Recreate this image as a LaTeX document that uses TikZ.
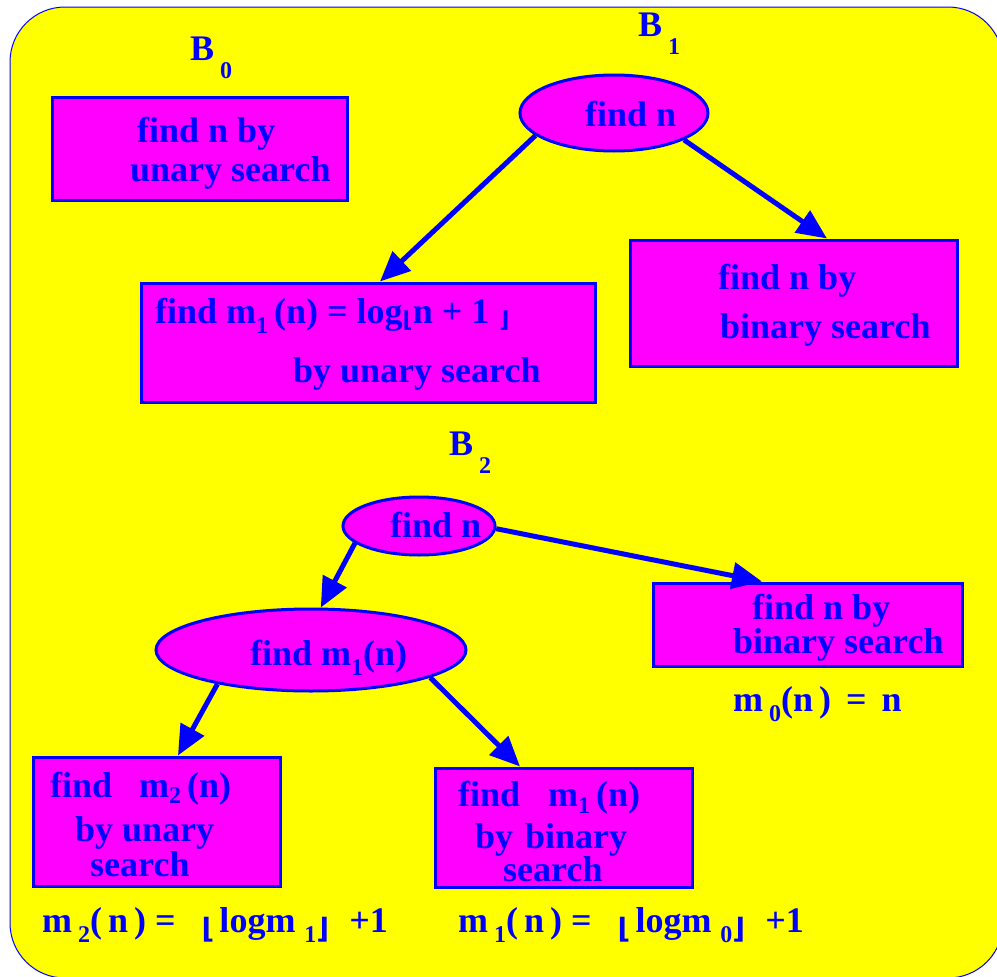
\documentclass[tikz,border=0pt]{standalone}
\usepackage{fontspec}
\setmainfont{Liberation Serif}
\newfontfamily\symf{DejaVu Sans}
\usetikzlibrary{shapes.geometric,arrows.meta}
\definecolor{mag}{RGB}{255,0,255}
\definecolor{yel}{RGB}{255,255,0}
\definecolor{blu}{RGB}{0,0,255}
\newcommand\sbs[2][-9pt]{\raisebox{#1}{\fontsize{24}{24}\selectfont #2}}
\newcommand\flo{\raisebox{-4pt}{\symf\fontsize{22}{22}\selectfont ⌊}}
\newcommand\flc{\raisebox{-4pt}{\symf\fontsize{22}{22}\selectfont ⌋}}
\newcommand\bflo{\raisebox{-6pt}{\symf\fontsize{28}{28}\selectfont ⌊}}
\newcommand\bflc{\raisebox{-6pt}{\symf\fontsize{28}{28}\selectfont ⌋}}
\begin{document}
\begin{tikzpicture}[x=1pt,y=-1pt,
  bx/.style={draw=blu, line width=3pt, fill=mag, inner sep=0pt},
  el/.style={ellipse, draw=blu, line width=3pt, fill=mag, inner sep=0pt},
  tx/.style={text=blu, font=\bfseries\fontsize{36}{40}\selectfont, inner sep=0pt, anchor=base west},
  ar/.style={draw=blu, line width=5pt, -{Triangle[length=30pt,width=26pt]}}]
\useasboundingbox (0,0) rectangle (997,977);
\draw[blu, line width=1pt, fill=yel, rounded corners=55pt] (10,7) rectangle (1003,978);
% labels
\node[tx] (lb0) at (190,60) {B\hspace{6pt}\sbs[-18pt]{0}};
\node[tx] (lb1) at (638,36) {B\hspace{6pt}\sbs[-18pt]{1}};
\node[tx] (lb2) at (449,455) {B\hspace{6pt}\sbs[-18pt]{2}};
% B0
\node[bx, minimum width=295pt, minimum height=103pt] (b1) at (199.5,148.5) {};
\node[tx] (t1a) at (137,142) {find n by};
\node[tx] (t1b) at (130,181) {unary search};
% B1
\node[el, minimum width=188pt, minimum height=76pt] (e1) at (614,113) {};
\node[tx] (te1) at (585,126) {find n};
\node[bx, minimum width=327pt, minimum height=126pt] (b2) at (793.5,303) {};
\node[tx] (t2a) at (718,289) {find n by};
\node[tx] (t2b) at (720,338) {binary search};
\node[bx, minimum width=454pt, minimum height=119pt] (b3) at (368,342.5) {};
\node[tx] (t3a) at (155,323) {find m\sbs[-10pt]{1}\,(n) = log\flo n + 1\hspace{10pt}\flc};
\node[tx] (t3b) at (293,382) {by unary search};
\draw[ar] (e1.196) -- ([xshift=12pt]b3.north);
\draw[ar] (e1.339) -- ([xshift=33.5pt]b2.north);
% B2
\node[el, minimum width=152pt, minimum height=58pt] (e2) at (419,526) {};
\node[tx] (te2) at (390,537) {find n};
\node[bx, minimum width=309pt, minimum height=83pt] (b4) at (807.5,624.5) {};
\node[tx] (t4a) at (752,619) {find n by};
\node[tx] (t4b) at (733,653) {binary search};
\node[tx] (m0) at (733,711) {m\,\sbs[-10pt]{0}(n\,)\, =\, n};
\node[el, minimum width=310pt, minimum height=82pt] (e3) at (311,650) {};
\node[tx] (te3) at (250,665) {find m\sbs[-10pt]{1}(n)};
\node[bx, minimum width=247pt, minimum height=129pt] (b5) at (156.5,821.5) {};
\node[tx] (t5a) at (50,797) {find\hspace{27pt}m\sbs[-6pt]{2}\,(n)};
\node[tx] (t5b) at (75,841) {by unary};
\node[tx] (t5c) at (90,876) {search};
\node[bx, minimum width=257pt, minimum height=119pt] (b6) at (563.5,827.5) {};
\node[tx] (t6a) at (458,806) {find\hspace{28pt}m\sbs[-7pt]{1}\,(n)};
\node[tx] (t6b) at (475,848) {by\hspace{12pt}binary};
\node[tx] (t6c) at (503,881) {search};
\draw[ar] (e2.358) -- ([xshift=-45.5pt]b4.north);
\draw[ar] (e2.195) -- (e3.77);
\draw[ar] (e3.200) -- ([xshift=21.5pt]b5.north);
\draw[ar] (e3.347) -- ([xshift=-43.5pt]b6.north);
% bottom formulas
\node[tx] (f1) at (42,932) {m\,\sbs[-10pt]{2}(\,n\,) =\hspace{26pt}\bflo\hspace{5pt}logm\hspace{9pt}\sbs[-10pt]{1}\bflc\hspace{20pt}+1};
\node[tx] (f2) at (458,932) {m\,\sbs[-10pt]{1}(\,n\,) =\hspace{26pt}\bflo\hspace{5pt}logm\hspace{9pt}\sbs[-10pt]{0}\bflc\hspace{20pt}+1};
\end{tikzpicture}
\end{document}
